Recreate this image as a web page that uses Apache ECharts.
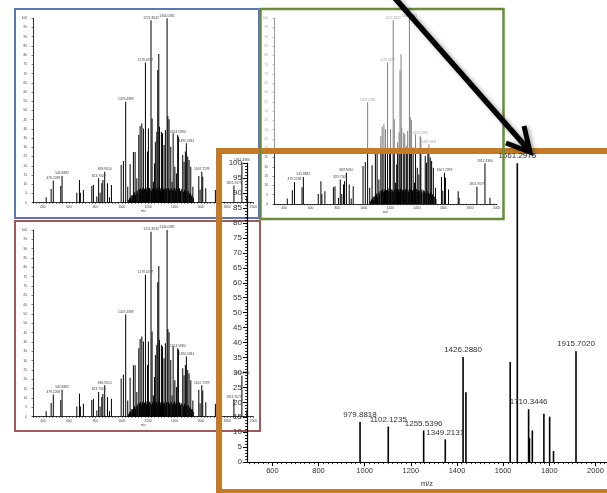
<!DOCTYPE html>
<html><head><meta charset="utf-8">
<script src="https://cdn.jsdelivr.net/npm/echarts@6/dist/echarts.min.js"></script>
<style>html,body{margin:0;padding:0;background:#fff}#c{width:607px;height:493px}</style>
</head><body><div id="c"></div>
<script>
// ---- main spectrum (orange panel) ----
const mainMz = [979.8818, 1102.1235, 1255.5396, 1349.2131, 1426.2880, 1438.6, 1630.5, 1661.2975, 1710.3446, 1714.0, 1726.4, 1776.5, 1801.5, 1818.2, 1915.7020];
const mainInt = [13.4, 11.9, 10.6, 7.6, 35.2, 23.4, 33.5, 100, 17.7, 8.0, 10.6, 16.2, 15.2, 3.7, 37.1];
const mainLabels = ['979.8818','1102.1235','1255.5396','1349.2131','1426.2880','','','1661.2975','1710.3446','','','','','','1915.7020'];
const mainXTickLabels = [600, 800, 1000, 1200, 1400, 1600, 1800, 2000];

// ---- inset spectrum (blue, red and green panels) ----
const insetMz = [425, 463, 479.2268, 536, 545.8882, 658, 678, 685, 708, 772, 784, 810, 823.7309, 835, 848, 856, 869.9010, 891, 906, 921,
  995, 1012, 1029.4389, 1045, 1063, 1076, 1088, 1101, 1114, 1129, 1139, 1152, 1164, 1179.4297, 1195, 1202, 1221.8632, 1230, 1240, 1248,
  1255, 1266, 1273, 1281, 1286, 1301, 1309, 1321, 1331, 1344.0381, 1350, 1359, 1372, 1382, 1390, 1403, 1415, 1424.5980, 1430, 1463,
  1473, 1483, 1490.5831, 1501, 1511, 1524, 1540, 1585, 1595, 1607.7299, 1615, 1638, 1711, 1718, 1851.9579, 1912.4384, 1950];
const insetInt = [2.9, 7.4, 11.9, 9.0, 14.5, 5.4, 12.3, 5.4, 6.9, 9.0, 9.6, 3.3, 13.2, 5.4, 10.5, 12.3, 16.8, 10.5, 2.9, 9.6,
  20.4, 22.6, 54.8, 8.7, 20.8, 4.0, 27.5, 27.5, 13.2, 36.7, 41.6, 43.0, 40.3, 76.0, 27.7, 40.3, 99.0, 45.7, 11.4, 21.3,
  33.0, 38.5, 72.0, 80.7, 41.2, 38.5, 37.6, 31.3, 39.4, 100, 47.0, 45.2, 30.4, 11.4, 37.6, 19.5, 15.9, 36.7, 35.8, 25.9,
  22.2, 27.7, 32.2, 25.0, 23.1, 19.5, 8.7, 14.5, 7.2, 16.8, 14.1, 7.8, 6.9, 3.3, 9.3, 21.9, 3.4];
const insetLabelText = ['479.2268','545.8882','823.7309','869.9010','1029.4389','1179.4297','1221.8632','1344.0381','1424.5980','1490.5831','1607.7299','1851.9579','1912.4384'];
// dense small peaks (base of the cluster)
const insetSmallPeaks = [[1052,1.5],[1058,2.4],[1066,3.1],[1071,2.2],[1079,4.0],[1084,3.6],[1091,4.8],[1096,5.5],[1104,4.2],[1109,6.1],
  [1117,5.3],[1122,6.8],[1133,7.4],[1136,6.2],[1143,7.9],[1148,6.5],[1156,7.2],[1160,8.1],[1168,6.9],[1172,7.6],
  [1184,8.3],[1188,7.0],[1198,7.8],[1206,6.6],[1211,8.0],[1216,7.3],[1226,6.4],[1234,7.7],[1244,8.2],[1251,6.8],
  [1259,7.1],[1262,7.9],[1270,6.7],[1277,8.4],[1290,7.5],[1294,6.3],[1297,7.8],[1305,7.0],[1313,8.1],[1317,6.9],
  [1325,7.4],[1336,6.5],[1340,7.7],[1354,8.0],[1363,6.8],[1367,7.3],[1376,7.9],[1386,6.6],[1394,7.2],[1399,8.2],
  [1407,6.4],[1411,7.6],[1419,7.1],[1434,6.9],[1438,7.8],[1446,6.2],[1451,7.4],[1457,6.8],[1468,5.9],[1477,7.0],
  [1487,6.1],[1496,5.4],[1505,6.3],[1515,4.7],[1519,5.2],[1529,3.8],[1535,4.1],[1544,2.6]];
const insetXTickLabels = [400, 600, 800, 1000, 1200, 1400, 1600, 1800, 2000];

const FONT = '"Liberation Sans", Arial, sans-serif';
const chart = echarts.init(document.getElementById('c'), null, {renderer: 'canvas'});

const mainData = mainMz.map((m, i) => ({
  name: mainLabels[i], value: [m, mainInt[i]], label: {show: mainLabels[i] !== ''}
}));
const insetData = insetMz.map((m, i) => {
  const key = insetLabelText.find(t => parseFloat(t) === m) || '';
  return {name: key, value: [m, insetInt[i]], label: {show: key !== ''}};
}).concat(insetSmallPeaks.map(p => ({name: '', value: p})));

const mainMinor = [];
for (let t = 500; t <= 2040; t += 20) mainMinor.push(t);

function insetX(gi, z) {
  return {
    type: 'value', gridIndex: gi, min: 325, max: 2000, interval: 25, z: z, position: 'bottom',
    name: 'm/z', nameLocation: 'middle', nameGap: 7,
    nameTextStyle: {fontSize: 3.2, color: '#444', fontFamily: FONT},
    axisLine: {show: true, lineStyle: {color: '#000', width: 0.8}},
    axisTick: {show: true, length: 1.2, lineStyle: {color: '#000', width: 0.5}},
    axisLabel: {show: true, interval: 0, margin: 3, fontSize: 3.2, color: '#444', fontFamily: FONT,
      formatter: v => insetXTickLabels.indexOf(v) >= 0 ? String(v) : ''},
    splitLine: {show: false}
  };
}
function insetY(gi, z) {
  return {
    type: 'value', gridIndex: gi, min: 0, max: 100, interval: 5, z: z,
    axisLine: {show: true, lineStyle: {color: '#000', width: 0.8}},
    axisTick: {show: true, length: 1.5, lineStyle: {color: '#000', width: 0.5}},
    axisLabel: {show: true, margin: 6, fontSize: 3.2, color: '#444', fontFamily: FONT},
    splitLine: {show: false}
  };
}
function insetSeries(xi, yi, z) {
  return {
    type: 'bar', xAxisIndex: xi, yAxisIndex: yi, z: z, barWidth: 1, barGap: '-100%',
    data: insetData, itemStyle: {color: '#000'}, animation: false, silent: true,
    label: {position: 'top', distance: 1, fontSize: 3.3, color: '#444', fontFamily: FONT, formatter: p => p.name}
  };
}

const option = {
  animation: false,
  backgroundColor: '#fff',
  grid: [
    {left: 247, top: 163.2, width: 374, height: 305.1},
    {left: 33, top: 18.3, width: 220.4, height: 184.4},
    {left: 33, top: 230, width: 220.4, height: 186.7},
    {left: 274, top: 18.3, width: 222.6, height: 185.7}
  ],
  xAxis: [
    {type: 'value', gridIndex: 0, min: 490, max: 2050, z: 6, position: 'bottom',
      name: 'm/z', nameLocation: 'middle', nameGap: 17,
      nameTextStyle: {fontSize: 7.5, color: '#333', fontFamily: FONT},
      axisLine: {show: true, lineStyle: {color: '#000', width: 1.2}},
      axisTick: {show: true, customValues: mainMinor, length: 2, lineStyle: {color: '#000', width: 0.8}},
      axisLabel: {show: true, customValues: mainXTickLabels, margin: 5, fontSize: 7.5, color: '#333', fontFamily: FONT,
        formatter: v => String(v)},
      splitLine: {show: false}},
    {type: 'value', gridIndex: 0, min: 490, max: 2050, z: 6, position: 'bottom',
      axisLine: {show: false},
      axisTick: {show: true, customValues: mainXTickLabels, length: 4, lineStyle: {color: '#000', width: 1}},
      axisLabel: {show: false}, splitLine: {show: false}},
    insetX(1, 1), insetX(2, 1), insetX(3, 3)
  ],
  yAxis: [
    {type: 'value', gridIndex: 0, min: 0, max: 100, interval: 5, z: 6,
      axisLine: {show: true, lineStyle: {color: '#000', width: 1.2}},
      axisTick: {show: true, length: 4, lineStyle: {color: '#000', width: 1}},
      minorTick: {show: true, splitNumber: 5, length: 2, lineStyle: {color: '#000', width: 0.8}},
      axisLabel: {show: true, margin: 5, fontSize: 8, color: '#333', fontFamily: FONT},
      splitLine: {show: false}, minorSplitLine: {show: false}},
    insetY(1, 1), insetY(2, 1), insetY(3, 3)
  ],
  series: [
    {type: 'bar', xAxisIndex: 0, yAxisIndex: 0, z: 6, barWidth: 1.6, barGap: '-100%',
      data: mainData, itemStyle: {color: '#000'}, silent: true,
      label: {position: 'top', distance: 3, fontSize: 8, color: '#333', fontFamily: FONT, formatter: p => p.name}},
    insetSeries(2, 1, 1),
    insetSeries(3, 2, 1),
    insetSeries(4, 3, 3)
  ],
  graphic: [
    {type: 'rect', z: 2, silent: true, shape: {x: 15, y: 9, width: 244, height: 209},
      style: {fill: 'none', stroke: '#5b78b2', lineWidth: 2}},
    {type: 'rect', z: 2, silent: true, shape: {x: 15, y: 221, width: 245, height: 210},
      style: {fill: 'none', stroke: '#a05a5a', lineWidth: 2}},
    {type: 'rect', z: 4, silent: true, shape: {x: 262, y: 10, width: 240, height: 138},
      style: {fill: 'rgba(255,255,255,0.5)', stroke: 'none'}},
    {type: 'rect', z: 5, silent: true, shape: {x: 219, y: 151, width: 420, height: 341},
      style: {fill: 'none', stroke: '#c47a26', lineWidth: 6}},
    {type: 'rect', z: 7, silent: true, shape: {x: 260.5, y: 9, width: 243, height: 210},
      style: {fill: 'none', stroke: '#6a8a3c', lineWidth: 2.5}},
    {type: 'line', z: 10, silent: true, shape: {x1: 393, y1: -4, x2: 527, y2: 148},
      style: {stroke: '#000', lineWidth: 5.5, shadowBlur: 4, shadowOffsetX: 2, shadowOffsetY: 1, shadowColor: 'rgba(0,0,0,0.35)'}},
    {type: 'polyline', z: 10, silent: true, shape: {points: [[524, 126], [530, 152], [506, 143]]},
      style: {stroke: '#000', fill: 'none', lineWidth: 5, lineJoin: 'miter', shadowBlur: 4, shadowOffsetX: 2, shadowOffsetY: 1, shadowColor: 'rgba(0,0,0,0.35)'}}
  ]
};
chart.setOption(option);
</script></body></html>
